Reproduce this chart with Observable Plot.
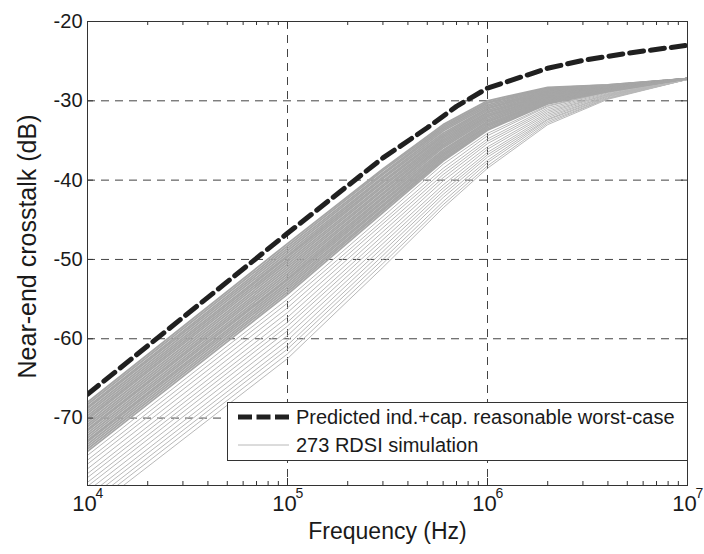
<!DOCTYPE html>
<html>
<head>
<meta charset="utf-8">
<script src="https://cdn.jsdelivr.net/npm/d3@7"></script>
<script src="https://cdn.jsdelivr.net/npm/@observablehq/plot@0.6"></script>
<style>
  html, body { margin: 0; padding: 0; background: #fff; }
  #wrap { position: relative; width: 704px; height: 554px; font-family: "Liberation Sans", Arial, sans-serif; }
  #legend { position: absolute; left: 227px; top: 402px; }
</style>
</head>
<body>
<div id="wrap"></div>
<script>
// ---- data ----
const simFreqs = [1e4, 1e5, 3e5, 6e5, 1e6, 2e6, 4e6, 1e7];
// dense group of simulated curves (upper part of the band)
const simCurvesDense = [
  [-68.0, -48.0, -38.6, -33.0, -30.0, -28.3, -28.0, -27.2],
  [-68.3, -48.3, -38.8, -33.2, -30.2, -28.4, -28.0, -27.2],
  [-68.6, -48.6, -39.1, -33.4, -30.3, -28.5, -28.1, -27.2],
  [-68.8, -48.9, -39.3, -33.6, -30.5, -28.6, -28.1, -27.2],
  [-69.1, -49.2, -39.6, -33.8, -30.7, -28.7, -28.1, -27.2],
  [-69.4, -49.5, -39.8, -34.1, -30.9, -28.8, -28.2, -27.2],
  [-69.7, -49.7, -40.1, -34.3, -31.0, -28.9, -28.2, -27.2],
  [-70.0, -50.0, -40.3, -34.5, -31.2, -29.0, -28.3, -27.2],
  [-70.2, -50.3, -40.6, -34.7, -31.4, -29.1, -28.3, -27.2],
  [-70.5, -50.6, -40.8, -34.9, -31.5, -29.2, -28.3, -27.2],
  [-70.8, -50.9, -41.1, -35.1, -31.7, -29.2, -28.4, -27.2],
  [-71.1, -51.2, -41.3, -35.3, -31.9, -29.3, -28.4, -27.2],
  [-71.4, -51.5, -41.6, -35.5, -32.0, -29.4, -28.4, -27.2],
  [-71.6, -51.8, -41.8, -35.7, -32.2, -29.5, -28.5, -27.2],
  [-71.9, -52.1, -42.1, -35.9, -32.4, -29.6, -28.5, -27.2],
  [-72.2, -52.4, -42.3, -36.2, -32.6, -29.7, -28.5, -27.2],
  [-72.5, -52.6, -42.6, -36.4, -32.7, -29.8, -28.6, -27.2],
  [-72.8, -52.9, -42.8, -36.6, -32.9, -29.9, -28.6, -27.2],
  [-73.0, -53.2, -43.1, -36.8, -33.1, -30.0, -28.7, -27.2],
  [-73.3, -53.5, -43.3, -37.0, -33.2, -30.1, -28.7, -27.2],
  [-73.6, -53.8, -43.6, -37.2, -33.4, -30.2, -28.7, -27.2],
  [-73.9, -54.1, -43.8, -37.4, -33.6, -30.3, -28.8, -27.2],
  [-74.2, -54.4, -44.1, -37.6, -33.7, -30.4, -28.8, -27.2]
];
// sparse group of simulated curves (lower part of the band)
const simCurvesSparse = [
  [-74.7, -55.0, -44.6, -38.0, -34.1, -30.6, -28.9, -27.3],
  [-75.3, -55.5, -45.1, -38.5, -34.4, -30.7, -28.9, -27.3],
  [-75.8, -56.1, -45.5, -38.9, -34.8, -30.9, -29.0, -27.3],
  [-76.4, -56.7, -46.0, -39.3, -35.1, -31.1, -29.1, -27.3],
  [-77.0, -57.3, -46.5, -39.7, -35.4, -31.3, -29.2, -27.3],
  [-77.5, -57.9, -47.0, -40.1, -35.8, -31.5, -29.2, -27.3],
  [-78.1, -58.4, -47.5, -40.6, -36.1, -31.7, -29.3, -27.3],
  [-78.6, -59.0, -48.0, -41.0, -36.5, -31.9, -29.4, -27.3],
  [-79.2, -59.6, -48.5, -41.4, -36.8, -32.1, -29.4, -27.3],
  [-79.8, -60.2, -49.0, -41.8, -37.1, -32.3, -29.5, -27.3],
  [-80.3, -60.8, -49.5, -42.2, -37.5, -32.4, -29.6, -27.3],
  [-80.9, -61.3, -50.0, -42.7, -37.8, -32.6, -29.7, -27.3],
  [-81.4, -61.9, -50.5, -43.1, -38.2, -32.8, -29.7, -27.3],
  [-82.0, -62.5, -51.0, -43.5, -38.5, -33.0, -29.8, -27.3]
];
const predictedFreqs = [1e4, 1e5, 3e5, 5e5, 7e5, 1e6, 2e6, 3e6, 5e6, 1e7];
const predictedValues = [-67.0, -46.7, -37.2, -33.4, -30.7, -28.4, -25.9, -24.9, -24.0, -23.0];

const xMajorTicks = [1e4, 1e5, 1e6, 1e7];
const xExponents = ["4", "5", "6", "7"];
const xMinorTicks = [2e4, 3e4, 4e4, 5e4, 6e4, 7e4, 8e4, 9e4,
                     2e5, 3e5, 4e5, 5e5, 6e5, 7e5, 8e5, 9e5,
                     2e6, 3e6, 4e6, 5e6, 6e6, 7e6, 8e6, 9e6];
const xGridLines = [1e5, 1e6];
const yTicks = [-70, -60, -50, -40, -30, -20];
const yGridLines = [-70, -60, -50, -40, -30];

const xLabel = "Frequency (Hz)";
const yLabel = "Near-end crosstalk (dB)";
const legendLabels = ["Predicted ind.+cap. reasonable worst-case", "273 RDSI simulation"];

// ---- tables ----
const toTable = (curves, tag) => curves.flatMap((row, i) => row.map((v, j) => ({run: tag + i, f: simFreqs[j], v})));
const denseTable = toTable(simCurvesDense, "d");
const sparseTable = toTable(simCurvesSparse, "s");
const predTable = predictedValues.map((v, j) => ({f: predictedFreqs[j], v}));
const majorTable = xMajorTicks.map((f, i) => ({f, e: xExponents[i]}));

const ink = "#1a1a1a";
const chart = Plot.plot({
  width: 704,
  height: 554,
  marginLeft: 87,
  marginRight: 17,
  marginTop: 21,
  marginBottom: 69,
  style: {fontFamily: "'Liberation Sans', Arial, sans-serif", background: "white", color: ink, overflow: "visible"},
  x: {type: "log", domain: [1e4, 1e7], axis: null},
  y: {domain: [-78.5, -20], axis: null},
  marks: [
    Plot.ruleY(yGridLines, {y: d => d, stroke: "#444", strokeWidth: 1, strokeDasharray: "8,6"}),
    Plot.ruleX(xGridLines, {x: d => d, stroke: "#444", strokeWidth: 1, strokeDasharray: "8,6"}),
    Plot.line(sparseTable, {x: "f", y: "v", z: "run", stroke: "#b8b8b8", strokeWidth: 1, clip: true}),
    Plot.line(denseTable, {x: "f", y: "v", z: "run", stroke: "#a6a6a6", strokeWidth: 1.8, clip: true}),
    Plot.line(predTable, {x: "f", y: "v", stroke: "#202020", strokeWidth: 5, strokeDasharray: "14,7", clip: true}),
    Plot.frame({stroke: "#333", strokeWidth: 1}),
    // inward ticks
    Plot.tickX(xMinorTicks, {x: d => d, insetTop: 460, stroke: "#333"}),
    Plot.tickX(xMinorTicks, {x: d => d, insetBottom: 460, stroke: "#333"}),
    Plot.tickX(xMajorTicks, {x: d => d, insetTop: 457, stroke: "#333"}),
    Plot.tickX(xMajorTicks, {x: d => d, insetBottom: 457, stroke: "#333"}),
    Plot.tickY(yTicks, {y: d => d, insetRight: 594, stroke: "#333"}),
    Plot.tickY(yTicks, {y: d => d, insetLeft: 594, stroke: "#333"}),
    // tick labels
    Plot.text(yTicks, {y: d => d, frameAnchor: "left", textAnchor: "end", dx: -5, text: d => String(d), fontSize: 20, fill: ink}),
    Plot.text(majorTable, {x: "f", frameAnchor: "bottom", textAnchor: "middle", text: () => "10", dx: -3, dy: 25, fontSize: 22, fill: ink}),
    Plot.text(majorTable, {x: "f", frameAnchor: "bottom", textAnchor: "middle", text: "e", dx: 12, dy: 12, fontSize: 14, fill: ink}),
    // axis titles
    Plot.text([xLabel], {frameAnchor: "bottom", textAnchor: "middle", dy: 53, fontSize: 23, fill: ink}),
    Plot.text([yLabel], {frameAnchor: "left", textAnchor: "middle", dx: -60, dy: -7, rotate: -90, fontSize: 25, fill: ink})
  ]
});
document.getElementById("wrap").appendChild(chart);

// ---- legend (inside the plot area, bottom right) ----
const lg = d3.select("#wrap").append("svg")
  .attr("id", "legend")
  .attr("width", 461).attr("height", 59)
  .style("font-family", "'Liberation Sans', Arial, sans-serif");
lg.append("rect").attr("x", 0.5).attr("y", 0.5).attr("width", 460).attr("height", 58)
  .attr("fill", "white").attr("stroke", "#333");
lg.append("line").attr("x1", 11).attr("x2", 62).attr("y1", 15).attr("y2", 15)
  .attr("stroke", "#202020").attr("stroke-width", 5).attr("stroke-dasharray", "14,4.5");
lg.append("line").attr("x1", 11).attr("x2", 62).attr("y1", 43).attr("y2", 43)
  .attr("stroke", "#b8b8b8").attr("stroke-width", 1);
lg.append("text").attr("x", 69).attr("y", 22).attr("font-size", 20).attr("fill", ink).text(legendLabels[0]);
lg.append("text").attr("x", 69).attr("y", 50).attr("font-size", 20).attr("fill", ink).text(legendLabels[1]);
</script>
</body>
</html>
